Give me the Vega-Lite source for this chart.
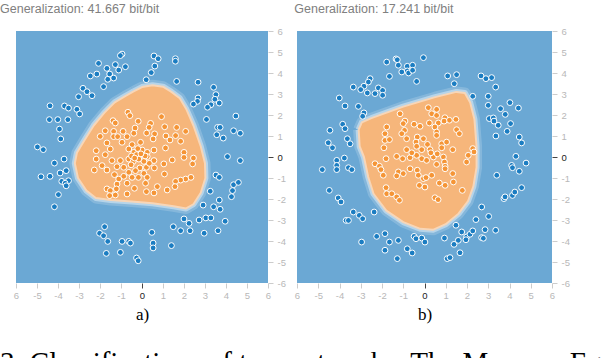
{
  "$schema": "https://vega.github.io/schema/vega-lite/v6.json",
  "padding": {"left": 0, "top": 2, "right": 0, "bottom": 0},
  "background": "white",
  "config": {
    "view": {"fill": "#6ba8d4", "stroke": null},
    "font": "Liberation Sans",
    "title": {"font": "Liberation Sans", "fontSize": 12.5, "fontWeight": "normal", "color": "#808080", "anchor": "start", "offset": 11},
    "axis": {
      "domain": false, "grid": false, "tickSize": 5, "labelPadding": 2, "labelOverlap": false,
      "labelFont": "Liberation Sans", "labelFontSize": 9.5,
      "labelColor": {"condition": {"test": "datum.value === 0", "value": "#222222"}, "value": "#b8b8b8"},
      "tickColor": {"condition": {"test": "datum.value === 0", "value": "#444444"}, "value": "#cccccc"}
    },
    "axisY": {"labelPadding": 4}
  },
  "title": {"text": "3: Classifications of two networks. The Memory Equivalent Capacity", "orient": "bottom", "anchor": "start", "font": "Liberation Serif", "fontSize": 29, "fontWeight": "normal", "color": "#000000", "offset": 26},
  "datasets": {
    "blobA": [
      {"i": 0, "x": -0.4, "y": 3.12}, {"i": 1, "x": 0.0, "y": 3.33}, {"i": 2, "x": 0.5, "y": 3.42}, {"i": 3, "x": 1.0, "y": 3.35},
      {"i": 4, "x": 1.4, "y": 3.1}, {"i": 5, "x": 1.8, "y": 2.8}, {"i": 6, "x": 2.1, "y": 2.3}, {"i": 7, "x": 2.45, "y": 1.5},
      {"i": 8, "x": 2.8, "y": 0.5}, {"i": 9, "x": 3.0, "y": -0.3}, {"i": 10, "x": 3.02, "y": -1.0}, {"i": 11, "x": 2.8, "y": -1.7},
      {"i": 12, "x": 2.45, "y": -2.25}, {"i": 13, "x": 2.1, "y": -2.45}, {"i": 14, "x": 1.5, "y": -2.35}, {"i": 15, "x": 0.5, "y": -2.2},
      {"i": 16, "x": -0.5, "y": -2.12}, {"i": 17, "x": -1.5, "y": -2.05}, {"i": 18, "x": -2.2, "y": -1.95}, {"i": 19, "x": -2.65, "y": -1.6},
      {"i": 20, "x": -3.05, "y": -1.0}, {"i": 21, "x": -3.2, "y": -0.3}, {"i": 22, "x": -3.1, "y": 0.2}, {"i": 23, "x": -2.8, "y": 0.7},
      {"i": 24, "x": -2.3, "y": 1.5}, {"i": 25, "x": -1.8, "y": 2.1}, {"i": 26, "x": -1.3, "y": 2.6}, {"i": 27, "x": -0.8, "y": 2.9},
      {"i": 28, "x": -0.4, "y": 3.12}
    ],
    "blobB": [
      {"i": 0, "x": -3.1, "y": 1.3}, {"i": 1, "x": -2.95, "y": 1.65}, {"i": 2, "x": -2.5, "y": 1.85}, {"i": 3, "x": -1.0, "y": 2.4},
      {"i": 4, "x": 0.5, "y": 2.85}, {"i": 5, "x": 1.5, "y": 3.1}, {"i": 6, "x": 1.9, "y": 3.05}, {"i": 7, "x": 2.15, "y": 2.6},
      {"i": 8, "x": 2.35, "y": 1.8}, {"i": 9, "x": 2.45, "y": 0.5}, {"i": 10, "x": 2.45, "y": -0.5}, {"i": 11, "x": 2.3, "y": -1.4},
      {"i": 12, "x": 2.05, "y": -2.1}, {"i": 13, "x": 1.6, "y": -2.7}, {"i": 14, "x": 1.0, "y": -3.2}, {"i": 15, "x": 0.4, "y": -3.47},
      {"i": 16, "x": -0.2, "y": -3.42}, {"i": 17, "x": -1.0, "y": -3.1}, {"i": 18, "x": -1.8, "y": -2.55}, {"i": 19, "x": -2.4, "y": -1.75},
      {"i": 20, "x": -2.65, "y": -0.95}, {"i": 21, "x": -2.85, "y": 0.0}, {"i": 22, "x": -3.05, "y": 0.5}, {"i": 23, "x": -3.1, "y": 1.3}
    ],
    "ptsA": [
      {"c": "b", "x": -0.95, "y": 4.90}, {"c": "b", "x": -1.03, "y": 4.83}, {"c": "b", "x": -2.07, "y": 4.46}, {"c": "b", "x": -1.27, "y": 4.40},
      {"c": "b", "x": -1.67, "y": 4.22}, {"c": "b", "x": -1.11, "y": 4.14}, {"c": "b", "x": -0.79, "y": 4.30}, {"c": "b", "x": -1.54, "y": 3.95},
      {"c": "b", "x": -1.35, "y": 3.76}, {"c": "b", "x": -1.63, "y": 3.70}, {"c": "b", "x": -1.83, "y": 3.35}, {"c": "b", "x": -2.15, "y": 3.95},
      {"c": "b", "x": -2.46, "y": 3.86}, {"c": "b", "x": -2.81, "y": 3.27}, {"c": "b", "x": -2.62, "y": 3.11}, {"c": "b", "x": -2.38, "y": 2.92},
      {"c": "b", "x": -3.02, "y": 2.87}, {"c": "b", "x": -4.38, "y": 2.44}, {"c": "b", "x": -3.69, "y": 2.43}, {"c": "b", "x": -3.50, "y": 2.33},
      {"c": "b", "x": -3.10, "y": 2.27}, {"c": "b", "x": -2.97, "y": 2.05}, {"c": "b", "x": -4.41, "y": 1.78}, {"c": "b", "x": -4.01, "y": 1.78},
      {"c": "b", "x": -3.53, "y": 1.78}, {"c": "b", "x": -3.93, "y": 1.33}, {"c": "b", "x": -3.87, "y": 0.86}, {"c": "b", "x": -4.98, "y": 0.48},
      {"c": "b", "x": -4.70, "y": 0.35}, {"c": "b", "x": 0.57, "y": 4.81}, {"c": "b", "x": 0.77, "y": 4.68}, {"c": "b", "x": 0.61, "y": 4.33},
      {"c": "b", "x": 0.44, "y": 4.02}, {"c": "b", "x": 0.20, "y": 3.68}, {"c": "b", "x": 1.59, "y": 4.68}, {"c": "b", "x": 1.59, "y": 4.56},
      {"c": "b", "x": 1.65, "y": 3.60}, {"c": "b", "x": 2.67, "y": 3.56}, {"c": "b", "x": 2.67, "y": 2.81}, {"c": "b", "x": 2.64, "y": 2.65},
      {"c": "b", "x": 2.45, "y": 2.52}, {"c": "b", "x": 3.41, "y": 3.32}, {"c": "b", "x": 3.52, "y": 2.97}, {"c": "b", "x": 3.47, "y": 2.75},
      {"c": "b", "x": 3.68, "y": 2.57}, {"c": "b", "x": 3.28, "y": 2.49}, {"c": "b", "x": 3.12, "y": 2.37}, {"c": "b", "x": 3.07, "y": 1.79},
      {"c": "b", "x": 4.47, "y": 1.95}, {"c": "b", "x": 4.36, "y": 1.25}, {"c": "b", "x": 4.68, "y": 1.13}, {"c": "b", "x": 3.60, "y": 1.41},
      {"c": "b", "x": 3.72, "y": 1.41}, {"c": "b", "x": 3.56, "y": 1.06}, {"c": "b", "x": 3.87, "y": 0.90},
      {"c": "b", "x": 4.07, "y": 0.02}, {"c": "b", "x": 4.68, "y": -0.17}, {"c": "b", "x": -4.17, "y": -0.29}, {"c": "b", "x": -3.71, "y": -0.10},
      {"c": "b", "x": -4.81, "y": -0.94}, {"c": "b", "x": -4.38, "y": -0.92}, {"c": "b", "x": -3.90, "y": -0.76}, {"c": "b", "x": -3.61, "y": -0.65},
      {"c": "b", "x": -3.82, "y": -1.16}, {"c": "b", "x": -3.50, "y": -1.13}, {"c": "b", "x": -3.66, "y": -1.25}, {"c": "b", "x": -3.61, "y": -1.37},
      {"c": "b", "x": -3.98, "y": -1.79}, {"c": "b", "x": -4.17, "y": -2.37}, {"c": "b", "x": 3.52, "y": -0.86}, {"c": "b", "x": 3.68, "y": -0.97},
      {"c": "b", "x": 4.36, "y": -1.32}, {"c": "b", "x": 4.59, "y": -1.21}, {"c": "b", "x": 4.31, "y": -1.60}, {"c": "b", "x": 4.26, "y": -1.89},
      {"c": "b", "x": 3.25, "y": -1.63}, {"c": "b", "x": 3.68, "y": -2.05}, {"c": "b", "x": 3.41, "y": -2.37}, {"c": "b", "x": 3.72, "y": -2.49},
      {"c": "b", "x": 2.91, "y": -2.29}, {"c": "b", "x": 2.00, "y": -2.95}, {"c": "b", "x": 2.24, "y": -3.16}, {"c": "b", "x": 1.49, "y": -3.32},
      {"c": "b", "x": 1.84, "y": -3.51}, {"c": "b", "x": 2.29, "y": -3.51}, {"c": "b", "x": 2.72, "y": -3.00}, {"c": "b", "x": 3.04, "y": -2.90},
      {"c": "b", "x": 3.28, "y": -2.90}, {"c": "b", "x": 3.96, "y": -3.06}, {"c": "b", "x": 2.96, "y": -3.63}, {"c": "b", "x": 3.62, "y": -3.51},
      {"c": "b", "x": -1.78, "y": -3.32}, {"c": "b", "x": -2.02, "y": -3.63}, {"c": "b", "x": -1.83, "y": -3.75}, {"c": "b", "x": -1.63, "y": -4.02},
      {"c": "b", "x": -0.95, "y": -4.02}, {"c": "b", "x": -0.63, "y": -4.02}, {"c": "b", "x": -0.55, "y": -4.10}, {"c": "b", "x": 0.47, "y": -3.59},
      {"c": "b", "x": 0.53, "y": -4.10}, {"c": "b", "x": 0.53, "y": -4.33}, {"c": "b", "x": 1.40, "y": -4.22}, {"c": "b", "x": -1.70, "y": -4.59},
      {"c": "b", "x": -1.03, "y": -4.54}, {"c": "b", "x": -0.26, "y": -4.81}, {"c": "b", "x": -0.18, "y": -4.94},
      {"c": "o", "x": -0.67, "y": 2.13}, {"c": "o", "x": -0.58, "y": 1.97}, {"c": "o", "x": 0.93, "y": 1.92}, {"c": "o", "x": -0.18, "y": 1.70},
      {"c": "o", "x": -1.38, "y": 1.73}, {"c": "o", "x": -1.27, "y": 1.62}, {"c": "o", "x": 0.41, "y": 1.60}, {"c": "o", "x": 1.08, "y": 1.44},
      {"c": "o", "x": 1.65, "y": 1.41}, {"c": "o", "x": 0.34, "y": 1.41}, {"c": "o", "x": -0.33, "y": 1.38}, {"c": "o", "x": -1.75, "y": 1.25},
      {"c": "o", "x": -1.35, "y": 1.22}, {"c": "o", "x": -0.90, "y": 1.22}, {"c": "o", "x": -0.39, "y": 1.13}, {"c": "o", "x": 0.22, "y": 1.14},
      {"c": "o", "x": 0.60, "y": 1.10}, {"c": "o", "x": 2.08, "y": 1.22}, {"c": "o", "x": 1.60, "y": 1.02}, {"c": "o", "x": 1.14, "y": 1.00},
      {"c": "o", "x": -1.99, "y": 0.98}, {"c": "o", "x": -1.35, "y": 0.97}, {"c": "o", "x": -1.16, "y": 0.97}, {"c": "o", "x": -0.71, "y": 0.97},
      {"c": "o", "x": 0.53, "y": 0.86}, {"c": "o", "x": 1.84, "y": 0.75}, {"c": "o", "x": 1.33, "y": 0.81}, {"c": "o", "x": -0.07, "y": 0.70},
      {"c": "o", "x": -1.67, "y": 0.67}, {"c": "o", "x": -0.95, "y": 0.70}, {"c": "o", "x": -0.47, "y": 0.59}, {"c": "o", "x": -2.18, "y": 0.30},
      {"c": "o", "x": -1.51, "y": 0.38}, {"c": "o", "x": -0.63, "y": 0.38}, {"c": "o", "x": 0.01, "y": 0.33}, {"c": "o", "x": 0.57, "y": 0.33},
      {"c": "o", "x": 1.12, "y": 0.43}, {"c": "o", "x": 2.00, "y": 0.22}, {"c": "o", "x": -0.39, "y": 0.22}, {"c": "o", "x": 0.25, "y": 0.22},
      {"c": "o", "x": -1.75, "y": 0.11}, {"c": "o", "x": -2.18, "y": -0.10}, {"c": "o", "x": -0.26, "y": 0.11}, {"c": "o", "x": 0.25, "y": 0.02},
      {"c": "o", "x": 2.00, "y": -0.02}, {"c": "o", "x": 2.45, "y": -0.05}, {"c": "o", "x": 1.44, "y": -0.14}, {"c": "o", "x": -1.43, "y": -0.17},
      {"c": "o", "x": -1.03, "y": -0.17}, {"c": "o", "x": -0.63, "y": -0.10}, {"c": "o", "x": -0.42, "y": -0.21}, {"c": "o", "x": -0.15, "y": -0.10},
      {"c": "o", "x": 0.09, "y": -0.21}, {"c": "o", "x": 0.57, "y": -0.17}, {"c": "o", "x": 1.04, "y": -0.33}, {"c": "o", "x": 2.41, "y": -0.33},
      {"c": "o", "x": -1.90, "y": -0.41}, {"c": "o", "x": -1.19, "y": -0.46}, {"c": "o", "x": -0.87, "y": -0.49}, {"c": "o", "x": -0.52, "y": -0.37},
      {"c": "o", "x": -0.10, "y": -0.52}, {"c": "o", "x": 0.21, "y": -0.49}, {"c": "o", "x": 0.59, "y": -0.52}, {"c": "o", "x": -2.27, "y": -0.62},
      {"c": "o", "x": -1.67, "y": -0.62}, {"c": "o", "x": -0.63, "y": -0.73}, {"c": "o", "x": -0.31, "y": -0.65}, {"c": "o", "x": 0.09, "y": -0.78},
      {"c": "o", "x": 1.07, "y": -0.81}, {"c": "o", "x": -1.31, "y": -0.84}, {"c": "o", "x": -0.87, "y": -0.92}, {"c": "o", "x": -0.47, "y": -0.97},
      {"c": "o", "x": -0.17, "y": -0.97}, {"c": "o", "x": 0.25, "y": -0.97}, {"c": "o", "x": 2.33, "y": -0.97}, {"c": "o", "x": 2.08, "y": -1.05},
      {"c": "o", "x": 1.84, "y": -1.10}, {"c": "o", "x": 1.60, "y": -1.16}, {"c": "o", "x": -1.11, "y": -1.05}, {"c": "o", "x": -1.19, "y": -1.29},
      {"c": "o", "x": -0.71, "y": -1.25}, {"c": "o", "x": -0.36, "y": -1.49}, {"c": "o", "x": 0.17, "y": -1.25}, {"c": "o", "x": 0.73, "y": -1.41},
      {"c": "o", "x": 1.57, "y": -1.41}, {"c": "o", "x": 1.20, "y": -1.57}, {"c": "o", "x": -1.67, "y": -1.52}, {"c": "o", "x": -1.51, "y": -1.60},
      {"c": "o", "x": -1.22, "y": -1.52}, {"c": "o", "x": 0.21, "y": -1.65}, {"c": "o", "x": 0.57, "y": -1.71}, {"c": "o", "x": -1.54, "y": -1.84},
      {"c": "o", "x": -1.27, "y": -1.81}, {"c": "o", "x": -0.71, "y": -1.76},
      {"c": "o", "x": -0.5, "y": 0.05}, {"c": "o", "x": -0.35, "y": -0.05}, {"c": "o", "x": 0.15, "y": 0.05}, {"c": "o", "x": -0.05, "y": 0.15},
      {"c": "o", "x": 0.35, "y": -0.3}, {"c": "o", "x": -0.2, "y": 0.4}
    ],
    "ptsB": [
      {"c": "b", "x": -1.78, "y": 4.52}, {"c": "b", "x": -1.34, "y": 4.67}, {"c": "b", "x": -1.28, "y": 4.63}, {"c": "b", "x": -1.23, "y": 4.37},
      {"c": "b", "x": -0.81, "y": 4.32}, {"c": "b", "x": -0.56, "y": 4.37}, {"c": "b", "x": -1.07, "y": 4.05}, {"c": "b", "x": -0.81, "y": 4.10},
      {"c": "b", "x": -0.75, "y": 4.00}, {"c": "b", "x": -0.56, "y": 4.13}, {"c": "b", "x": -1.65, "y": 3.84}, {"c": "b", "x": -0.37, "y": 3.60},
      {"c": "b", "x": -0.05, "y": 4.73}, {"c": "b", "x": -2.56, "y": 3.73}, {"c": "b", "x": -2.64, "y": 3.57}, {"c": "b", "x": -2.85, "y": 3.37},
      {"c": "b", "x": -3.35, "y": 3.33}, {"c": "b", "x": -3.00, "y": 3.21}, {"c": "b", "x": -2.69, "y": 3.05}, {"c": "b", "x": -2.33, "y": 3.02},
      {"c": "b", "x": -2.17, "y": 3.29}, {"c": "b", "x": -1.97, "y": 3.17}, {"c": "b", "x": -1.97, "y": 2.94}, {"c": "b", "x": -4.01, "y": 2.81},
      {"c": "b", "x": -3.74, "y": 2.43}, {"c": "b", "x": -3.11, "y": 2.41}, {"c": "b", "x": -2.85, "y": 2.10}, {"c": "b", "x": -2.91, "y": 1.94},
      {"c": "b", "x": -3.85, "y": 1.56}, {"c": "b", "x": -3.74, "y": 1.35}, {"c": "b", "x": -4.45, "y": 1.27}, {"c": "b", "x": -3.63, "y": 0.87},
      {"c": "b", "x": -3.50, "y": 0.63}, {"c": "b", "x": -4.53, "y": 0.68}, {"c": "b", "x": -4.33, "y": 0.44}, {"c": "b", "x": 1.09, "y": 3.86},
      {"c": "b", "x": 1.51, "y": 3.92}, {"c": "b", "x": 1.40, "y": 3.49}, {"c": "b", "x": 2.27, "y": 2.89}, {"c": "b", "x": 2.66, "y": 3.86},
      {"c": "b", "x": 2.89, "y": 3.73}, {"c": "b", "x": 3.16, "y": 3.78}, {"c": "b", "x": 3.35, "y": 3.33}, {"c": "b", "x": 3.00, "y": 2.89},
      {"c": "b", "x": 3.00, "y": 2.46}, {"c": "b", "x": 3.58, "y": 2.30}, {"c": "b", "x": 4.02, "y": 2.59}, {"c": "b", "x": 4.42, "y": 2.33},
      {"c": "b", "x": 3.80, "y": 2.03}, {"c": "b", "x": 3.05, "y": 1.83}, {"c": "b", "x": 3.24, "y": 1.86}, {"c": "b", "x": 3.27, "y": 1.71},
      {"c": "b", "x": 4.05, "y": 1.59}, {"c": "b", "x": 3.47, "y": 1.51}, {"c": "b", "x": 3.89, "y": 1.22}, {"c": "b", "x": 3.36, "y": 1.00},
      {"c": "b", "x": 4.46, "y": 0.95}, {"c": "b", "x": 4.57, "y": 0.67},
      {"c": "b", "x": -4.13, "y": -0.16}, {"c": "b", "x": -3.77, "y": -0.05}, {"c": "b", "x": -4.13, "y": -0.40}, {"c": "b", "x": -4.81, "y": -0.60},
      {"c": "b", "x": -4.13, "y": -0.60}, {"c": "b", "x": -3.58, "y": -0.51}, {"c": "b", "x": -3.42, "y": -0.60}, {"c": "b", "x": -4.48, "y": -1.59},
      {"c": "b", "x": -4.06, "y": -1.95}, {"c": "b", "x": -3.93, "y": -2.14}, {"c": "b", "x": -3.35, "y": -2.62}, {"c": "b", "x": -3.07, "y": -2.78},
      {"c": "b", "x": -2.91, "y": -2.94}, {"c": "b", "x": -3.69, "y": -3.02}, {"c": "b", "x": -3.58, "y": -3.02}, {"c": "b", "x": -2.37, "y": -2.62},
      {"c": "b", "x": -2.96, "y": -4.05}, {"c": "b", "x": -2.25, "y": -3.78}, {"c": "b", "x": -1.86, "y": -3.65}, {"c": "b", "x": -1.65, "y": -4.05},
      {"c": "b", "x": -1.23, "y": -3.97}, {"c": "b", "x": -1.86, "y": -4.44}, {"c": "b", "x": -1.28, "y": -4.84}, {"c": "b", "x": -0.81, "y": -4.37},
      {"c": "b", "x": -0.58, "y": -4.57}, {"c": "b", "x": -0.49, "y": -3.78}, {"c": "b", "x": -0.40, "y": -3.89}, {"c": "b", "x": -0.13, "y": -3.86},
      {"c": "b", "x": 0.02, "y": -4.05}, {"c": "b", "x": 0.94, "y": -3.86}, {"c": "b", "x": 1.07, "y": -4.84}, {"c": "b", "x": 1.20, "y": -4.79},
      {"c": "b", "x": 1.39, "y": -4.16}, {"c": "b", "x": 1.59, "y": -3.97}, {"c": "b", "x": 1.67, "y": -4.56}, {"c": "b", "x": 1.48, "y": -3.25},
      {"c": "b", "x": 1.75, "y": -3.57}, {"c": "b", "x": 1.98, "y": -3.81}, {"c": "b", "x": 1.95, "y": -3.94}, {"c": "b", "x": 2.14, "y": -3.68},
      {"c": "b", "x": 2.27, "y": -3.52}, {"c": "b", "x": 2.42, "y": -2.98}, {"c": "b", "x": 2.69, "y": -2.38}, {"c": "b", "x": 3.02, "y": -2.83},
      {"c": "b", "x": 2.69, "y": -3.84}, {"c": "b", "x": 2.77, "y": -3.87}, {"c": "b", "x": 2.85, "y": -3.46}, {"c": "b", "x": 3.35, "y": -3.49},
      {"c": "b", "x": 3.74, "y": -1.98}, {"c": "b", "x": 3.79, "y": -1.90}, {"c": "b", "x": 4.14, "y": -1.83}, {"c": "b", "x": 4.25, "y": -1.67},
      {"c": "b", "x": 4.57, "y": -1.46}, {"c": "b", "x": 3.40, "y": -0.87}, {"c": "b", "x": 4.30, "y": 0.03}, {"c": "b", "x": 4.10, "y": -0.40},
      {"c": "b", "x": 4.14, "y": -0.51}, {"c": "b", "x": 4.46, "y": -0.68}, {"c": "b", "x": 4.78, "y": -0.29},
      {"c": "o", "x": -1.15, "y": 2.06}, {"c": "o", "x": 0.18, "y": 2.35}, {"c": "o", "x": 0.57, "y": 2.27}, {"c": "o", "x": 0.34, "y": 2.06},
      {"c": "o", "x": 0.57, "y": 1.98}, {"c": "o", "x": 0.96, "y": 1.87}, {"c": "o", "x": 1.17, "y": 1.75}, {"c": "o", "x": 1.48, "y": 1.79},
      {"c": "o", "x": 0.92, "y": 1.71}, {"c": "o", "x": 0.65, "y": 1.62}, {"c": "o", "x": -0.92, "y": 1.71}, {"c": "o", "x": -1.00, "y": 1.59},
      {"c": "o", "x": -1.78, "y": 1.43}, {"c": "o", "x": -0.49, "y": 1.56}, {"c": "o", "x": -0.21, "y": 1.46}, {"c": "o", "x": 0.23, "y": 1.62},
      {"c": "o", "x": 0.49, "y": 1.43}, {"c": "o", "x": -0.94, "y": 1.27}, {"c": "o", "x": -1.86, "y": 1.11}, {"c": "o", "x": 1.51, "y": 1.30},
      {"c": "o", "x": 1.64, "y": 1.11}, {"c": "o", "x": -1.07, "y": 1.11}, {"c": "o", "x": 0.57, "y": 1.19}, {"c": "o", "x": 0.57, "y": 1.03},
      {"c": "o", "x": -1.86, "y": 0.79}, {"c": "o", "x": -1.65, "y": 0.83}, {"c": "o", "x": -0.84, "y": 0.87}, {"c": "o", "x": -0.34, "y": 0.95},
      {"c": "o", "x": -0.40, "y": 0.71}, {"c": "o", "x": -0.05, "y": 0.87}, {"c": "o", "x": 0.14, "y": 0.60}, {"c": "o", "x": 0.81, "y": 0.63},
      {"c": "o", "x": 1.04, "y": 0.71}, {"c": "o", "x": 1.33, "y": 0.35}, {"c": "o", "x": 0.81, "y": 0.44}, {"c": "o", "x": -0.37, "y": 0.51},
      {"c": "o", "x": -1.91, "y": 0.44}, {"c": "o", "x": -0.84, "y": 0.35}, {"c": "o", "x": 0.26, "y": 0.35}, {"c": "o", "x": 2.27, "y": 0.40},
      {"c": "o", "x": 2.33, "y": 0.24}, {"c": "o", "x": -0.13, "y": 0.35},
      {"c": "o", "x": -1.81, "y": -0.08}, {"c": "o", "x": -1.31, "y": 0.03}, {"c": "o", "x": -1.03, "y": -0.08}, {"c": "o", "x": -0.68, "y": -0.03},
      {"c": "o", "x": -0.37, "y": 0.08}, {"c": "o", "x": -0.13, "y": -0.08}, {"c": "o", "x": 0.10, "y": -0.16}, {"c": "o", "x": 0.42, "y": 0.00},
      {"c": "o", "x": 0.89, "y": 0.00}, {"c": "o", "x": 0.94, "y": -0.24}, {"c": "o", "x": 0.97, "y": -0.44}, {"c": "o", "x": 0.97, "y": -0.56},
      {"c": "o", "x": 2.06, "y": 0.08}, {"c": "o", "x": 1.98, "y": -0.24}, {"c": "o", "x": -2.33, "y": -0.32}, {"c": "o", "x": -2.12, "y": -0.44},
      {"c": "o", "x": -2.05, "y": -0.60}, {"c": "o", "x": -1.94, "y": -0.87}, {"c": "o", "x": -1.23, "y": -0.71}, {"c": "o", "x": -1.31, "y": -0.90},
      {"c": "o", "x": -1.00, "y": -0.79}, {"c": "o", "x": -0.68, "y": -0.56}, {"c": "o", "x": -0.34, "y": -0.63}, {"c": "o", "x": -0.29, "y": -0.87},
      {"c": "o", "x": -0.05, "y": -1.03}, {"c": "o", "x": 0.07, "y": -0.98}, {"c": "o", "x": 0.34, "y": -0.87}, {"c": "o", "x": 0.57, "y": -0.35},
      {"c": "o", "x": 1.33, "y": -0.79}, {"c": "o", "x": 1.36, "y": -1.19}, {"c": "o", "x": 0.70, "y": -1.24}, {"c": "o", "x": 0.97, "y": -1.35},
      {"c": "o", "x": -0.24, "y": -1.35}, {"c": "o", "x": 0.02, "y": -1.43}, {"c": "o", "x": -1.81, "y": -1.46}, {"c": "o", "x": -1.78, "y": -1.75},
      {"c": "o", "x": -1.54, "y": -1.75}, {"c": "o", "x": -1.31, "y": -1.90}, {"c": "o", "x": -1.18, "y": -2.06}, {"c": "o", "x": 0.49, "y": -1.94},
      {"c": "o", "x": 0.64, "y": -2.03}, {"c": "o", "x": 1.78, "y": -1.59},
      {"c": "o", "x": 0.3, "y": 0.2}, {"c": "o", "x": 0.6, "y": 0.15}, {"c": "o", "x": -0.6, "y": 0.2}
    ]
  },
  "spacing": 8,
  "hconcat": [
    {
      "width": 252, "height": 252,
      "title": {"text": "Generalization: 41.667 bit/bit"},
      "resolve": {"axis": {"y": "independent"}},
      "layer": [
        {
          "data": {"name": "blobA"},
          "mark": {"type": "line", "stroke": "#ffffff", "strokeWidth": 11, "strokeOpacity": 0.18, "strokeJoin": "round"},
          "encoding": {
            "x": {"field": "x", "type": "quantitative", "scale": {"domain": [-6, 6], "nice": false, "zero": false},
                  "axis": {"orient": "bottom", "values": [-6, -5, -4, -3, -2, -1, 0, 1, 2, 3, 4, 5, 6], "title": "a)", "titleFont": "Liberation Serif", "titleFontSize": 17, "titleFontWeight": "normal", "titleColor": "#000", "titlePadding": 7, "labelFlush": false, "labelOverlap": false, "labelExpr": "datum.value === -6 ? '6' : '' + datum.value"}},
            "y": {"field": "y", "type": "quantitative", "scale": {"domain": [-6, 6], "nice": false, "zero": false},
                  "axis": {"orient": "left", "labels": false, "ticks": false, "domain": false, "title": null, "minExtent": 16, "maxExtent": 16}},
            "order": {"field": "i", "type": "quantitative"}
          }
        },
        {
          "data": {"name": "blobA"},
          "mark": {"type": "line", "stroke": "#ffffff", "strokeWidth": 6, "strokeOpacity": 0.4, "strokeJoin": "round"},
          "encoding": {
            "x": {"field": "x", "type": "quantitative", "scale": {"domain": [-6, 6], "nice": false, "zero": false},
                  "axis": {"orient": "bottom", "values": [-6, -5, -4, -3, -2, -1, 0, 1, 2, 3, 4, 5, 6], "title": "a)", "titleFont": "Liberation Serif", "titleFontSize": 17, "titleFontWeight": "normal", "titleColor": "#000", "titlePadding": 7, "labelFlush": false, "labelOverlap": false, "labelExpr": "datum.value === -6 ? '6' : '' + datum.value"}},
            "y": {"field": "y", "type": "quantitative", "axis": null},
            "order": {"field": "i", "type": "quantitative"}
          }
        },
        {
          "data": {"name": "blobA"},
          "mark": {"type": "line", "fill": "#f6b67b", "stroke": "#f7d6b8", "strokeWidth": 2, "strokeJoin": "round"},
          "encoding": {
            "x": {"field": "x", "type": "quantitative", "scale": {"domain": [-6, 6], "nice": false, "zero": false},
                  "axis": {"orient": "bottom", "values": [-6, -5, -4, -3, -2, -1, 0, 1, 2, 3, 4, 5, 6], "title": "a)", "titleFont": "Liberation Serif", "titleFontSize": 17, "titleFontWeight": "normal", "titleColor": "#000", "titlePadding": 7, "labelFlush": false, "labelOverlap": false, "labelExpr": "datum.value === -6 ? '6' : '' + datum.value"}},
            "y": {"field": "y", "type": "quantitative", "axis": null},
            "order": {"field": "i", "type": "quantitative"}
          }
        },
        {
          "data": {"name": "ptsA"},
          "mark": {"type": "circle", "size": 34, "stroke": "white", "strokeWidth": 1, "opacity": 1},
          "encoding": {
            "x": {"field": "x", "type": "quantitative", "scale": {"domain": [-6, 6], "nice": false, "zero": false},
                  "axis": {"orient": "bottom", "values": [-6, -5, -4, -3, -2, -1, 0, 1, 2, 3, 4, 5, 6], "title": "a)", "titleFont": "Liberation Serif", "titleFontSize": 17, "titleFontWeight": "normal", "titleColor": "#000", "titlePadding": 7, "labelFlush": false, "labelOverlap": false, "labelExpr": "datum.value === -6 ? '6' : '' + datum.value"}},
            "y": {"field": "y", "type": "quantitative", "axis": {"orient": "right", "title": null, "values": [-6, -5, -4, -3, -2, -1, 0, 1, 2, 3, 4, 5, 6], "labelOverlap": false, "labelPadding": 4, "labelExpr": "'' + datum.value"}},
            "color": {"field": "c", "type": "nominal", "scale": {"domain": ["b", "o"], "range": ["#1b7dc2", "#f59536"]}, "legend": null}
          }
        }
      ]
    },
    {
      "width": 255, "height": 252,
      "title": {"text": "Generalization: 17.241 bit/bit"},
      "encoding": {
        "x": {"field": "x", "type": "quantitative", "scale": {"domain": [-6, 6], "nice": false, "zero": false},
              "axis": {"orient": "bottom", "values": [-6, -5, -4, -3, -2, -1, 0, 1, 2, 3, 4, 5, 6], "title": "b)", "titleFont": "Liberation Serif", "titleFontSize": 17, "titleFontWeight": "normal", "titleColor": "#000", "titlePadding": 7, "labelFlush": false, "labelOverlap": false, "labelExpr": "datum.value === -6 ? '6' : '' + datum.value"}},
        "y": {"field": "y", "type": "quantitative", "scale": {"domain": [-6, 6], "nice": false, "zero": false},
              "axis": {"orient": "right", "title": null, "values": [-6, -5, -4, -3, -2, -1, 0, 1, 2, 3, 4, 5, 6], "labelOverlap": false, "labelPadding": 4, "labelExpr": "'' + datum.value"}}
      },
      "layer": [
        {
          "data": {"name": "blobB"},
          "mark": {"type": "line", "stroke": "#ffffff", "strokeWidth": 11, "strokeOpacity": 0.18, "strokeJoin": "round"},
          "encoding": {"order": {"field": "i", "type": "quantitative"}}
        },
        {
          "data": {"name": "blobB"},
          "mark": {"type": "line", "stroke": "#ffffff", "strokeWidth": 6, "strokeOpacity": 0.4, "strokeJoin": "round"},
          "encoding": {"order": {"field": "i", "type": "quantitative"}}
        },
        {
          "data": {"name": "blobB"},
          "mark": {"type": "line", "fill": "#f6b67b", "stroke": "#f7d6b8", "strokeWidth": 2, "strokeJoin": "round"},
          "encoding": {"order": {"field": "i", "type": "quantitative"}}
        },
        {
          "data": {"name": "ptsB"},
          "mark": {"type": "circle", "size": 34, "stroke": "white", "strokeWidth": 1, "opacity": 1},
          "encoding": {
            "color": {"field": "c", "type": "nominal", "scale": {"domain": ["b", "o"], "range": ["#1b7dc2", "#f59536"]}, "legend": null}
          }
        }
      ]
    }
  ]
}
